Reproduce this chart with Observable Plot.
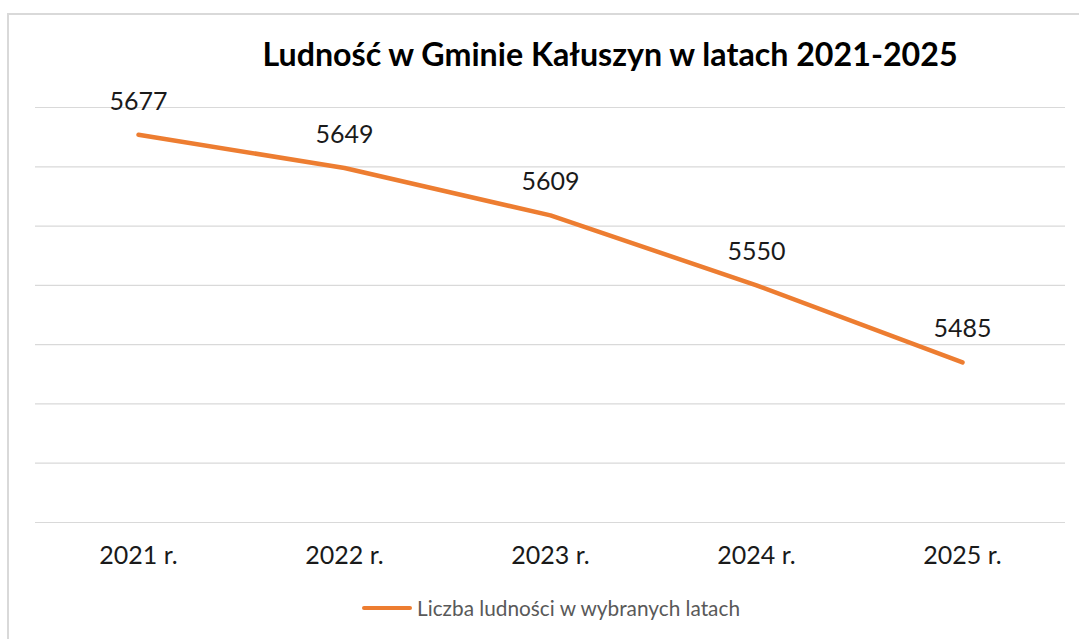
<!DOCTYPE html>
<html>
<head>
<meta charset="utf-8">
<script src="https://cdn.jsdelivr.net/npm/d3@7"></script>
<script src="https://cdn.jsdelivr.net/npm/@observablehq/plot@0.6"></script>
<style>
  html, body { margin: 0; padding: 0; background: #fff; }
  #wrap { position: relative; width: 1079px; height: 639px; overflow: hidden; font-family: Lato, "Open Sans", sans-serif; }
  #frame { position: absolute; left: 7px; top: 13px; width: 1200px; height: 700px; border-left: 2px solid #d9d9d9; border-top: 2px solid #d9d9d9; }
  #title { position: absolute; left: 0; width: 1220px; top: 34px; text-align: center; font-size: 32.2px; font-weight: 700; color: #000; white-space: nowrap; }
  #chart { position: absolute; left: 0; top: 80px; }
  #legend { position: absolute; top: 595px; left: 362px; display: flex; align-items: center; white-space: nowrap; }
  #legend .sw { width: 50px; height: 4px; background: #ed7d31; border-radius: 2px; margin-right: 5px; }
  #legend .lb { font-size: 20.8px; color: #595959; }
</style>
</head>
<body>
<div id="wrap">
  <div id="frame"></div>
  <div id="title">Ludność w Gminie Kałuszyn w latach 2021-2025</div>
  <div id="chart"></div>
  <div id="legend"><div class="sw"></div><div class="lb">Liczba ludności w wybranych latach</div></div>
</div>
<script>
const years = ["2021 r.", "2022 r.", "2023 r.", "2024 r.", "2025 r."];
const population = [5677, 5649, 5609, 5550, 5485];
const gridValues = [5350, 5400, 5450, 5500, 5550, 5600, 5650, 5700];
const seriesName = "Liczba ludności w wybranych latach";

const data = years.map((y, i) => ({year: y, value: population[i]}));

const chart = Plot.plot({
  width: 1079,
  height: 500,
  marginLeft: 35,
  marginRight: 14,
  marginTop: 27,
  marginBottom: 58,
  style: {fontFamily: "Lato, 'Open Sans', sans-serif", background: "transparent"},
  x: {type: "point", domain: years, padding: 0.5, align: 0.5},
  y: {domain: [5350, 5700], axis: null},
  marks: [
    Plot.ruleY(gridValues, {stroke: "#d9d9d9", strokeWidth: 1.2, strokeOpacity: 1}),
    Plot.axisX({tickSize: 0, tickPadding: 24, fontSize: 25, label: null, fill: "#1a1a1a"}),
    Plot.line(data, {x: "year", y: "value", stroke: "#ed7d31", strokeWidth: 4.5, strokeLinecap: "round", strokeLinejoin: "round"}),
    Plot.text(data, {x: "year", y: "value", text: d => String(d.value), dy: -33, fontSize: 25, fill: "#1a1a1a"})
  ]
});
document.getElementById("chart").appendChild(chart);
</script>
</body>
</html>
